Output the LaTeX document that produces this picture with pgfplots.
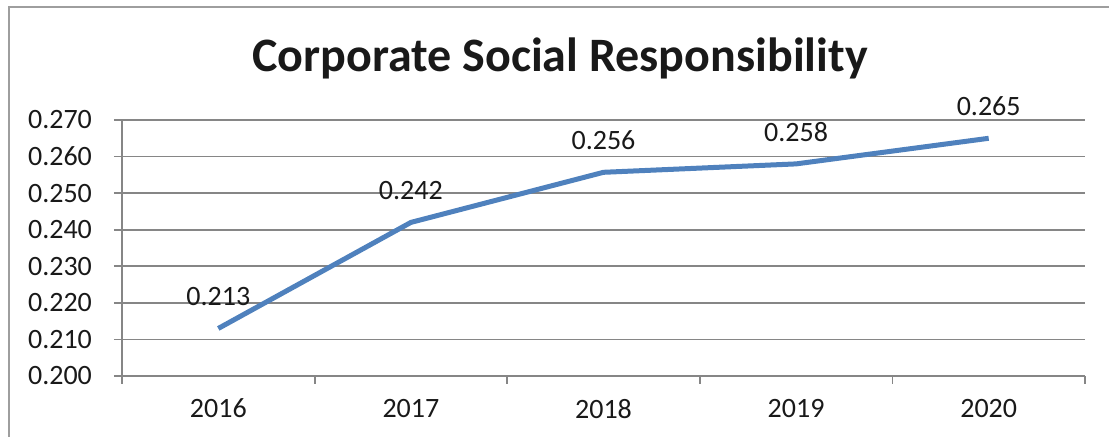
\documentclass[border=0pt]{standalone}
\usepackage{fontspec}
\setmainfont{Carlito}
\usepackage{pgfplots}
\pgfplotsset{compat=1.18}
\definecolor{csrblue}{RGB}{79,129,189}
\definecolor{gridgray}{RGB}{134,134,134}
\begin{document}
\begin{tikzpicture}
\useasboundingbox (0,0) rectangle (554.5pt,-218.5pt);
\draw[gridgray!80, line width=0.8pt] (4.5pt,-219pt) -- (4.5pt,-3.5pt) -- (555pt,-3.5pt);
\node[font=\fontsize{24}{28}\selectfont\bfseries, text=black!90] at (280pt,-29pt) {Corporate Social Responsibility};
\begin{axis}[
  at={(61pt,-188pt)}, anchor=south west,
  scale only axis, width=481.5pt, height=128pt,
  xmin=-0.5, xmax=4.5, ymin=0.2, ymax=0.27,
  axis line style={gridgray, line width=0.9pt},
  axis x line*=bottom, axis y line*=left,
  xtick={-0.5,0.5,1.5,2.5,3.5,4.5}, xticklabels={},
  extra x ticks={0,1,2,3,4},
  extra x tick labels={2016,2017,2018,2019,2020},
  extra x tick style={major tick length=0pt, grid=none},
  ytick={0.2,0.21,0.22,0.23,0.24,0.25,0.26,0.27},
  tick align=outside, major tick length=4pt,
  tick style={gridgray, line width=0.9pt},
  ymajorgrids, grid style={gridgray, line width=0.9pt},
  /pgf/number format/assume math mode=true,
  yticklabel style={/pgf/number format/fixed, /pgf/number format/fixed zerofill, /pgf/number format/precision=3},
  ticklabel style={font=\fontsize{14}{16}\selectfont, text=black!90},
  x tick label style={yshift=-8pt},
  y tick label style={xshift=-7.5pt},
  clip=false,
  nodes near coords,
  every node near coord/.append style={font=\fontsize{14}{16}\selectfont, text=black!90, anchor=center, yshift=16pt, /pgf/number format/fixed, /pgf/number format/fixed zerofill, /pgf/number format/precision=3},
]
\addplot[csrblue, line width=2.5pt, mark=none] coordinates {
  (0,0.213) (1,0.242) (2,0.2557) (3,0.258) (4,0.265)
};
\end{axis}
\end{tikzpicture}
\end{document}
